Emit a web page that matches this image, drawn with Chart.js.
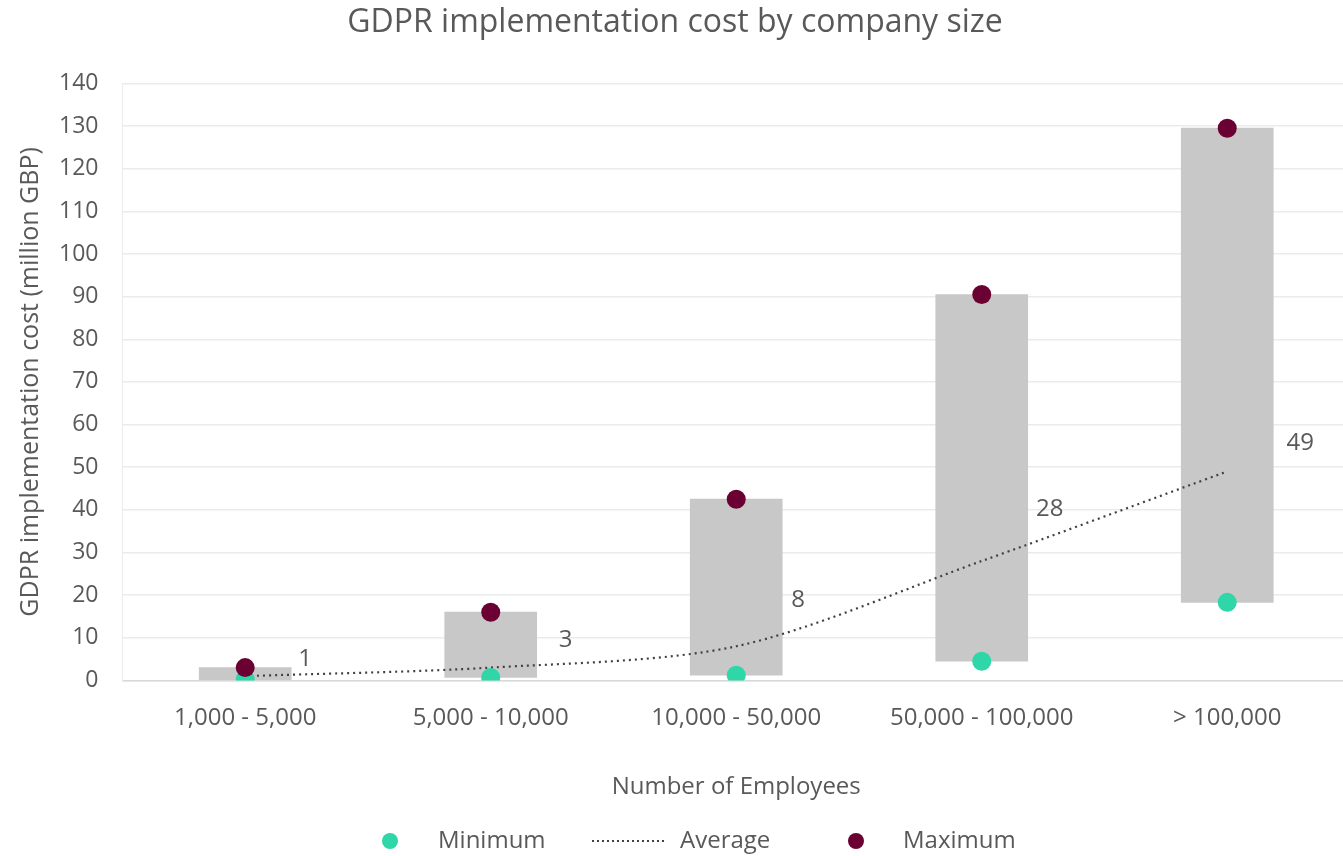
<!DOCTYPE html>
<html>
<head>
<meta charset="utf-8">
<script src="https://cdn.jsdelivr.net/npm/chart.js@4.4.0/dist/chart.umd.min.js"></script>
<style>
  body { margin: 0; background: #fff; overflow: hidden; }
  #wrap { width: 1343px; height: 856px; overflow: hidden; }
</style>
</head>
<body>
<!-- the original plot runs a little past the right edge, so the canvas is a bit wider than the window -->
<div id="wrap"><canvas id="mycanvas" width="1350" height="856"></canvas></div>
<script>
// values (million GBP)
var categories = ["1,000 - 5,000", "5,000 - 10,000", "10,000 - 50,000", "50,000 - 100,000", "> 100,000"];
var minimum = [0.2, 0.7, 1.2, 4.5, 18.3];
var maximum = [3, 16, 42.5, 90.5, 129.5];
var average = [1, 3, 8, 28, 49];
var yTicks = [0, 140, 10]; // min, max, step

var FONT = "'Open Sans', sans-serif";
var TEXT = "#595959";
var MIN_COL = "#2ed6a8";
var MAX_COL = "#6b0033";
var LINE_COL = "#404040";

var ranges = [];
for (var i = 0; i < categories.length; i++) {
    ranges.push([minimum[i], maximum[i]]);
}

// labels next to the average line (nudged like in the original)
var avgLabels = {
    id: "avgLabels",
    afterDatasetsDraw: function(chart) {
        var nudge = [[60, -17], [75, -27], [62, -46], [68, -52], [73, -28]];
        var meta = chart.getDatasetMeta(1);
        var ctx = chart.ctx;
        ctx.save();
        ctx.font = "24px " + FONT;
        ctx.fillStyle = TEXT;
        ctx.textAlign = "center";
        ctx.textBaseline = "middle";
        meta.data.forEach(function(pt, i) {
            ctx.fillText(String(average[i]), pt.x + nudge[i][0], pt.y + nudge[i][1]);
        });
        ctx.restore();
    }
};

// legend drawn by hand, under the axis title
var bottomLegend = {
    id: "bottomLegend",
    afterDraw: function(chart) {
        var ctx = chart.ctx;
        var y = 841;
        ctx.save();
        ctx.font = "24px " + FONT;
        ctx.textBaseline = "middle";
        ctx.textAlign = "left";

        ctx.beginPath();
        ctx.fillStyle = MIN_COL;
        ctx.arc(390, y, 8, 0, Math.PI * 2);
        ctx.fill();
        ctx.fillStyle = TEXT;
        ctx.fillText("Minimum", 438, y);

        ctx.strokeStyle = LINE_COL;
        ctx.lineWidth = 2;
        ctx.setLineDash([2, 3]);
        ctx.beginPath();
        ctx.moveTo(592, y);
        ctx.lineTo(667, y);
        ctx.stroke();
        ctx.setLineDash([]);
        ctx.fillText("Average", 680, y);

        ctx.beginPath();
        ctx.fillStyle = MAX_COL;
        ctx.arc(856, y, 8, 0, Math.PI * 2);
        ctx.fill();
        ctx.fillStyle = TEXT;
        ctx.fillText("Maximum", 903, y);
        ctx.restore();
    }
};

var ctx = document.getElementById("mycanvas");

var chart = new Chart(ctx, {
    data: {
        labels: categories,
        datasets: [
            {
                type: "bar",
                label: "Range",
                data: ranges,
                backgroundColor: "#c8c8c8",
                borderWidth: 0,
                barThickness: 92,
                order: 4
            },
            {
                type: "line",
                label: "Average",
                data: average,
                borderColor: LINE_COL,
                borderWidth: 2.2,
                borderDash: [2, 4],
                pointRadius: 0,
                tension: 0.3,
                fill: false,
                order: 3
            },
            {
                type: "line",
                label: "Minimum",
                data: minimum,
                showLine: false,
                pointRadius: 9.5,
                pointBackgroundColor: MIN_COL,
                pointBorderWidth: 0,
                order: 2
            },
            {
                type: "line",
                label: "Maximum",
                data: maximum,
                showLine: false,
                pointRadius: 9.5,
                pointBackgroundColor: MAX_COL,
                pointBorderWidth: 0,
                order: 1
            }
        ]
    },
    options: {
        responsive: false,
        animation: false,
        layout: { autoPadding: false, padding: { top: 0, right: 0, bottom: 54, left: 0 } },
        plugins: {
            legend: { display: false },
            tooltip: { enabled: false },
            title: {
                display: true,
                text: "GDPR implementation cost by company size",
                color: TEXT,
                font: { family: FONT, size: 32, weight: "normal" },
                padding: { top: 4, bottom: 41 }
            }
        },
        scales: {
            x: {
                grid: { display: false, drawTicks: false },
                border: { display: true, color: "#d9d9d9", width: 1.5 },
                ticks: { color: TEXT, font: { family: FONT, size: 24 }, padding: 23 },
                title: {
                    display: true,
                    text: "Number of Employees",
                    color: TEXT,
                    font: { family: FONT, size: 24 },
                    padding: { top: 18, bottom: 0 }
                },
                afterFit: function(scale) {
                    scale.paddingLeft = 0;
                    scale.paddingRight = 0;
                }
            },
            y: {
                min: yTicks[0],
                max: yTicks[1],
                ticks: { stepSize: yTicks[2], color: TEXT, font: { family: FONT, size: 23 }, padding: 24 },
                grid: { color: "#ebebeb", lineWidth: 1.5, drawTicks: false },
                border: { display: true, color: "#ececec" },
                title: {
                    display: true,
                    text: "GDPR implementation cost (million GBP)",
                    color: TEXT,
                    font: { family: FONT, size: 25 },
                    padding: { top: 16, bottom: -11 }
                }
            }
        }
    },
    plugins: [avgLabels, bottomLegend]
});
</script>
</body>
</html>
